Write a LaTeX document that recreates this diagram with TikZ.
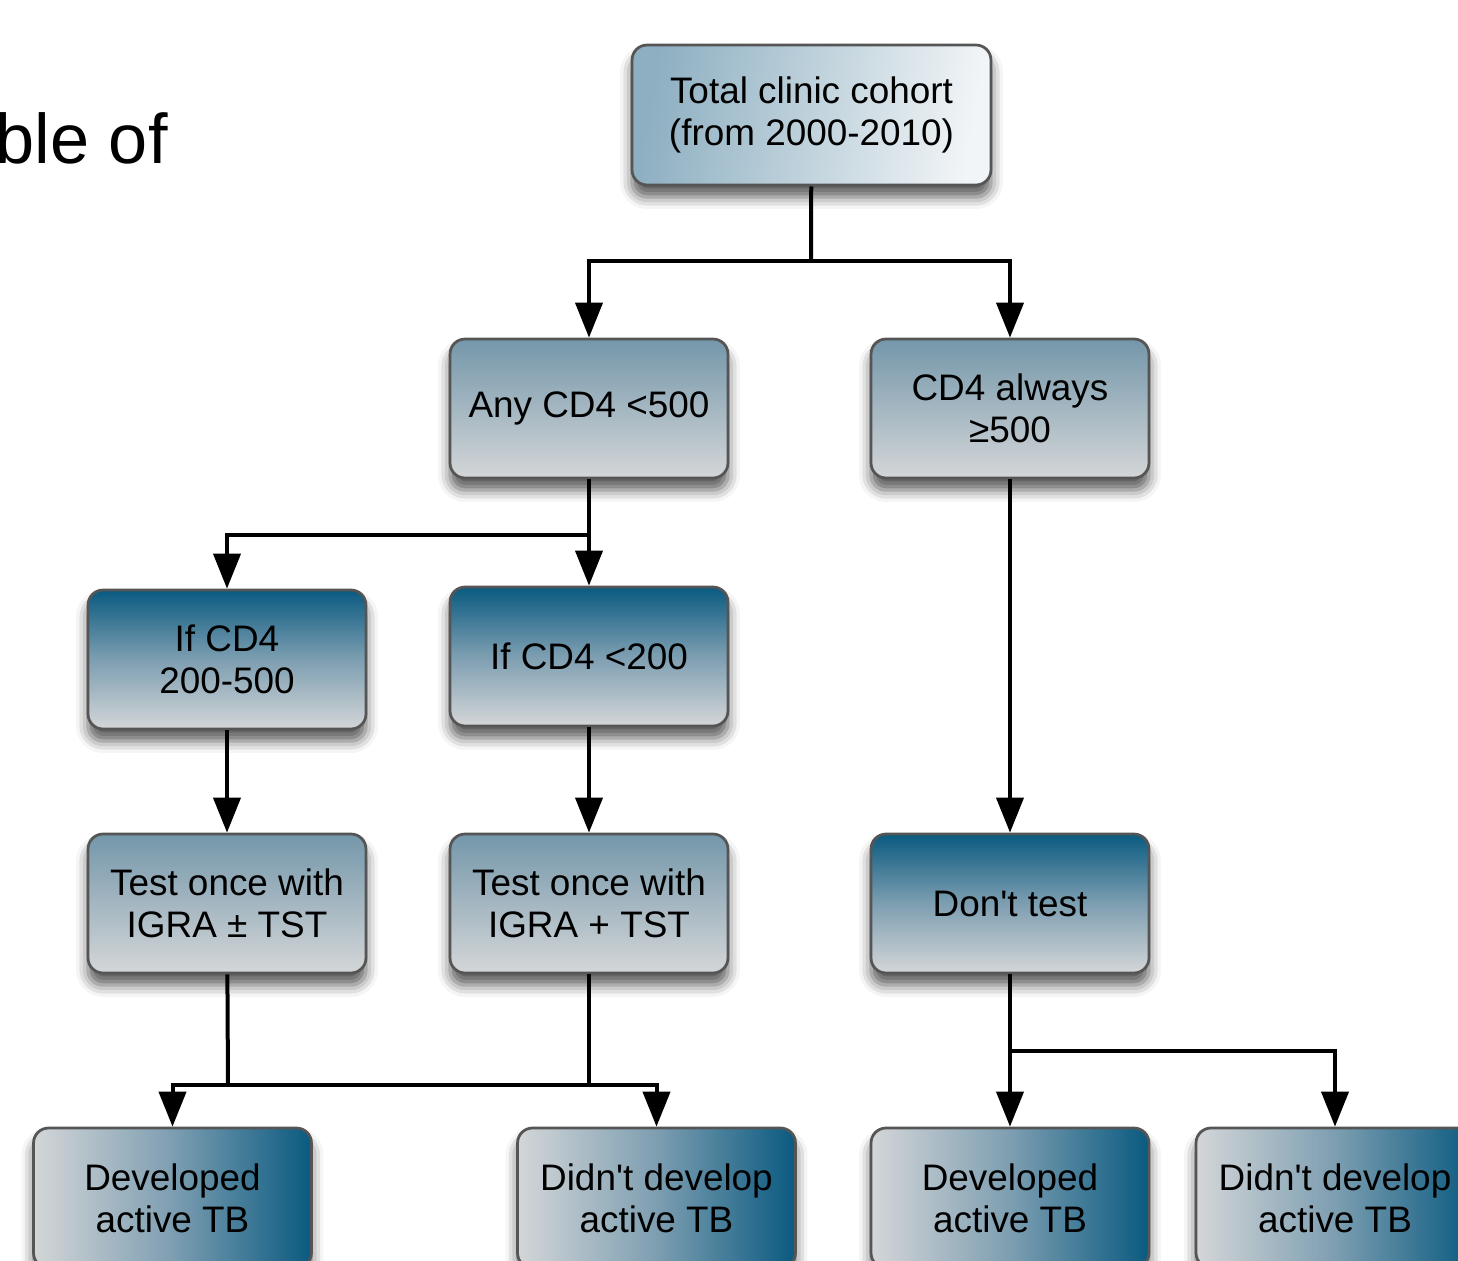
\documentclass[tikz,border=0pt]{standalone}
\usepackage{fontspec}
\setmainfont{Liberation Sans}[Ligatures=TeXOff]
\usetikzlibrary{arrows.meta,shadows.blur}

\definecolor{tealdark}{RGB}{10,90,128}
\definecolor{greylight}{RGB}{212,214,216}
\definecolor{bluegrey}{RGB}{116,151,170}
\definecolor{bluemid}{RGB}{125,158,177}
\definecolor{bluepale}{RGB}{141,175,193}
\definecolor{palegrey}{RGB}{242,245,247}
\definecolor{edgegrey}{RGB}{85,85,85}

\begin{document}
\begin{tikzpicture}[x=0.02cm, y=-0.02cm,
    box/.style={draw=edgegrey, line width=0.055cm, rounded corners=0.3cm,
      minimum width=5.56cm, minimum height=2.78cm, inner sep=0pt, align=center,
      font=\fontsize{21}{24}\selectfont,
      blur shadow={shadow xshift=0cm, shadow yshift=-0.24cm, shadow blur radius=0.24cm, shadow opacity=65}},
    lightbox/.style={box, top color=bluegrey, bottom color=greylight},
    darkbox/.style={box, top color=tealdark, bottom color=greylight, middle color=bluemid},
    endbox/.style={box, left color=greylight, right color=tealdark, middle color=bluemid},
    conn/.style={line width=0.08cm, black},
    arr/.style={conn, -{Triangle[length=0.7cm, width=0.54cm]}}]

  % Fix the page size
  \useasboundingbox (0,0) rectangle (1458,1261);

  % Heading cut at the left edge
  \node[anchor=base east, inner sep=0pt, font=\fontsize{40}{44}\selectfont] (heading) at (168,163) {ble of};

  % Boxes
  \node[box, minimum width=7.18cm, minimum height=2.8cm, left color=bluepale, right color=palegrey, shading angle=80] (total) at (811.5,115) {Total clinic cohort\\(from 2000-2010)};
  \node[lightbox] (anycd) at (589,408.5) {Any CD4 <500};
  \node[lightbox] (always) at (1010,408.5) {CD4 always\\≥500};
  \node[darkbox] (midcd) at (227,659.5) {If CD4\\200-500};
  \node[darkbox] (lowcd) at (589,656.5) {If CD4 <200};
  \node[lightbox] (testpm) at (227,903.5) {Test once with\\IGRA ± TST};
  \node[lightbox] (testplus) at (589,903.5) {Test once with\\IGRA + TST};
  \node[darkbox] (donttest) at (1010,903.5) {Don't test};
  \node[endbox, minimum height=2.8cm] (devone) at (172.5,1198) {Developed\\active TB};
  \node[endbox, minimum height=2.8cm] (nodevone) at (656.5,1198) {Didn't develop\\active TB};
  \node[endbox, minimum height=2.8cm] (devtwo) at (1010,1198) {Developed\\active TB};
  \node[endbox, minimum height=2.8cm] (nodevtwo) at (1335,1198) {Didn't develop\\active TB};

  % Junction points
  \coordinate (jtop) at (811,261);
  \coordinate (jany) at (589,535);
  \coordinate (jpm) at (228,1085);
  \coordinate (jplus) at (589,1085);
  \coordinate (jdont) at (1010,1051);

  % Connectors
  \draw[conn] (total) -- (jtop);
  \draw[arr] (jtop) -| (anycd);
  \draw[arr] (jtop) -| (always);
  \draw[conn] (anycd) -- (jany);
  \draw[arr] (jany) -| (midcd);
  \draw[arr] (jany) -- (lowcd);
  \draw[arr] (always) -- (donttest);
  \draw[arr] (midcd) -- (testpm);
  \draw[arr] (lowcd) -- (testplus);
  \draw[conn] (testpm) -- (jpm);
  \draw[conn] (testplus) -- (jplus);
  \draw[conn] (jpm) -- (jplus);
  \draw[arr] (jpm) -| (devone);
  \draw[arr] (jplus) -| (nodevone);
  \draw[conn] (donttest) -- (jdont);
  \draw[arr] (jdont) -- (devtwo);
  \draw[arr] (jdont) -| (nodevtwo);
\end{tikzpicture}
\end{document}
